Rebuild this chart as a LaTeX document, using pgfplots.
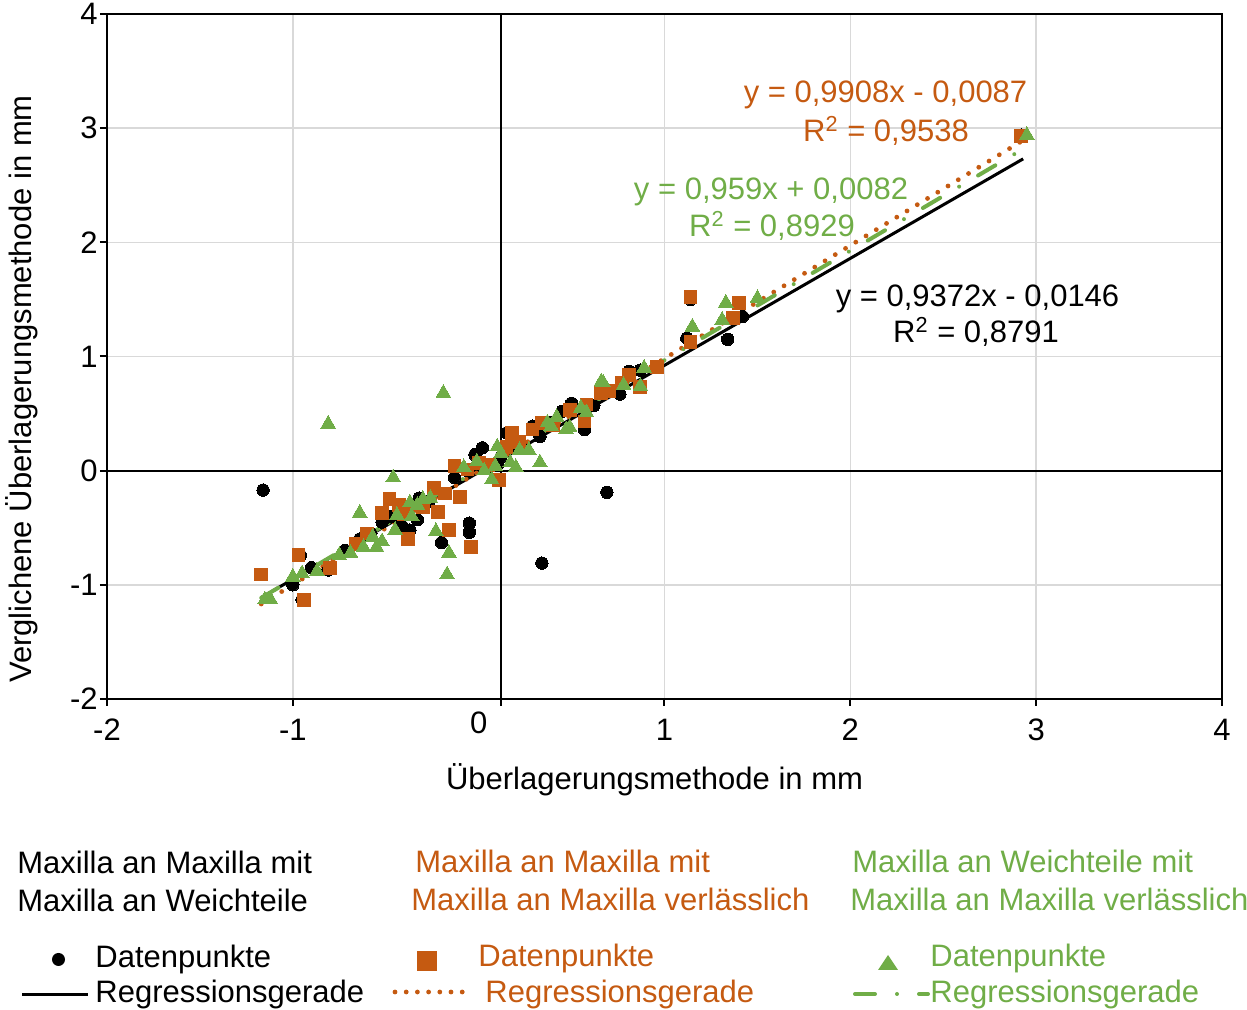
\documentclass[border=0pt]{standalone}
\usepackage{fontspec}
\setmainfont{Liberation Sans}
\usepackage{pgfplots}
\pgfplotsset{compat=1.18}
\definecolor{cblk}{HTML}{000000}
\definecolor{corg}{HTML}{C55A11}
\definecolor{cgrn}{HTML}{70AD47}
\definecolor{cgrid}{HTML}{D9D9D9}
\newcommand\fs{\fontsize{15.5}{18}\selectfont}
\begin{document}
\begin{tikzpicture}[font=\fs]
\path[use as bounding box] (0,0) rectangle (623.5pt,505pt);
\begin{axis}[
  at={(53.5pt,155.5pt)}, anchor=south west,
  width=557.5pt, height=342.5pt, scale only axis,
  xmin=-2, xmax=4, ymin=-2, ymax=4,
  xtick={-2,-1,1,2,3,4},
  extra x ticks={0},
  extra x tick style={grid=none, major tick length=0pt},
  ytick={-2,-1,0,1,2,3,4},
  grid=major, grid style={cgrid, line width=0.8pt},
  axis line style={black, line width=1pt},
  tick style={black, line width=1pt},
  tick align=outside, major tick length=3.5pt,
  xtick pos=bottom, ytick pos=left,
  /pgf/number format/assume math mode=true,
  ticklabel style={font=\fs},
  xticklabel style={yshift=-3pt},
  yticklabel style={inner sep=1pt},
  clip=false,
]
\draw[black, line width=1pt] (axis cs:-2,0) -- (axis cs:4,0);
\draw[black, line width=1pt] ([yshift=-3.5pt]axis cs:0.12,-2) -- (axis cs:0.12,4);

% black circles
\addplot[color=cblk, only marks, mark=*, mark size=3.1pt, mark options={solid, draw=cblk, fill=cblk, line width=0pt}] coordinates {
(-1.16,-0.17) (-1.00,-1.00) (-0.95,-1.13) (-0.96,-0.74) (-0.81,-0.87) (-0.90,-0.85)
(-0.72,-0.70) (-0.64,-0.60) (-0.58,-0.55) (-0.52,-0.45) (-0.48,-0.40) (-0.41,-0.49)
(-0.37,-0.52) (-0.33,-0.43) (-0.32,-0.24) (-0.27,-0.27) (-0.20,-0.63) (-0.05,-0.46)
(-0.05,-0.54) (-0.13,-0.06) (-0.06,0.00) (-0.02,0.14) (0.02,0.20) (0.05,0.03)
(0.10,0.05) (0.15,0.33) (0.22,0.20) (0.29,0.39) (0.34,-0.81) (0.38,0.42)
(0.45,0.52) (0.50,0.59) (0.57,0.36) (0.62,0.57) (0.69,-0.19) (0.76,0.67)
(0.81,0.87) (0.87,0.88) (1.12,1.16) (1.14,1.50) (1.34,1.15) (1.42,1.35) (2.92,2.94)
(-0.44,-0.41) (0.33,0.30) (0.12,0.12)
};
% orange squares
\addplot[color=corg, only marks, mark=square*, mark size=3.2pt, mark options={solid, draw=corg, fill=corg, line width=0pt}] coordinates {
(-1.17,-0.91) (-0.97,-0.74) (-0.94,-1.13) (-0.80,-0.85) (-0.66,-0.64) (-0.60,-0.55)
(-0.52,-0.37) (-0.48,-0.25) (-0.43,-0.30) (-0.38,-0.60) (-0.30,-0.32) (-0.24,-0.15)
(-0.22,-0.36) (-0.16,-0.52) (-0.04,-0.67) (-0.13,0.04) (-0.10,-0.23) (-0.06,0.01)
(0.00,0.07) (0.05,0.05) (0.11,-0.08) (0.15,0.21) (0.18,0.33) (0.22,0.25)
(0.29,0.36) (0.34,0.42) (0.49,0.53) (0.57,0.43) (0.58,0.58) (0.66,0.68)
(0.70,0.70) (0.77,0.77) (0.81,0.84) (0.87,0.73) (0.96,0.91) (1.14,1.13)
(1.14,1.52) (1.37,1.34) (1.40,1.47) (2.92,2.93)
(-0.40,-0.38) (0.40,0.40) (-0.18,-0.20)
};
% green triangles
\addplot[color=cgrn, only marks, mark=triangle*, mark size=4.2pt, mark options={solid, draw=cgrn, fill=cgrn, line width=0pt}] coordinates {
(-1.12,-1.13) (-1.15,-1.13) (-1.00,-0.93) (-0.95,-0.90) (-0.87,-0.88) (-0.81,0.41)
(-0.75,-0.74) (-0.69,-0.72) (-0.64,-0.37) (-0.62,-0.67) (-0.57,-0.58) (-0.55,-0.67)
(-0.52,-0.62) (-0.46,-0.06) (-0.45,-0.52) (-0.44,-0.39) (-0.37,-0.28) (-0.36,-0.40)
(-0.33,-0.30) (-0.30,-0.25) (-0.26,-0.24) (-0.23,-0.53) (-0.19,0.68) (-0.16,-0.72)
(-0.17,-0.91) (-0.08,0.03) (-0.01,0.08) (0.03,0.00) (0.07,-0.08) (0.09,0.04)
(0.10,0.21) (0.12,0.15) (0.17,0.07) (0.20,0.03) (0.22,0.18) (0.27,0.18)
(0.33,0.07) (0.37,0.42) (0.39,0.39) (0.42,0.47) (0.47,0.36) (0.49,0.38)
(0.55,0.55) (0.58,0.51) (0.66,0.78) (0.67,0.77) (0.78,0.75) (0.87,0.74)
(0.89,0.90) (1.15,1.26) (1.31,1.32) (1.33,1.47) (1.50,1.51) (2.95,2.94)
};
% regression lines
\addplot[cblk, line width=1.5pt] coordinates {(-1.17,-1.111) (2.93,2.731)};
\addplot[corg, line width=2.4pt, line cap=round, dash pattern=on 0pt off 6pt] coordinates {(-1.17,-1.168) (2.93,2.894)};
\addplot[cgrn, line width=2pt, line cap=round, dash pattern=on 10pt off 11pt on 0pt off 11pt] coordinates {(-1.17,-1.114) (2.93,2.818)};
\end{axis}

% axis labels
\node[rotate=90, anchor=base] at (16pt,310.5pt) {Verglichene Überlagerungsmethode in mm};
\node[anchor=base] at (327.25pt,110pt) {Überlagerungsmethode in mm};

% equations
\node[anchor=base, text=corg] at (442.75pt,453.5pt) {y = 0,9908x - 0,0087};
\node[anchor=base, text=corg] at (443pt,434pt) {R\textsuperscript{2} = 0,9538};
\node[anchor=base, text=cgrn] at (385.5pt,405pt) {y = 0,959x + 0,0082};
\node[anchor=base, text=cgrn] at (386pt,386.5pt) {R\textsuperscript{2} = 0,8929};
\node[anchor=base, text=cblk] at (488.75pt,351.5pt) {y = 0,9372x - 0,0146};
\node[anchor=base, text=cblk] at (488pt,333.5pt) {R\textsuperscript{2} = 0,8791};

% legend column 1
\node[anchor=base west, inner sep=0pt, text=cblk] at (8.5pt,68pt) {Maxilla an Maxilla mit};
\node[anchor=base west, inner sep=0pt, text=cblk] at (8.5pt,49pt) {Maxilla an Weichteile};
\fill[cblk] (29.25pt,25.25pt) circle (3.25pt);
\node[anchor=base west, inner sep=0pt, text=cblk] at (47.5pt,21pt) {Datenpunkte};
\draw[cblk, line width=1.5pt] (11pt,7.5pt) -- (44pt,7.5pt);
\node[anchor=base west, inner sep=0pt, text=cblk] at (47.5pt,3.5pt) {Regressionsgerade};

% legend column 2
\node[anchor=base west, inner sep=0pt, text=corg] at (207.5pt,68.5pt) {Maxilla an Maxilla mit};
\node[anchor=base west, inner sep=0pt, text=corg] at (205.5pt,49.5pt) {Maxilla an Maxilla verlässlich};
\fill[corg] (208.5pt,19.5pt) rectangle (218.5pt,29.5pt);
\node[anchor=base west, inner sep=0pt, text=corg] at (239pt,21.5pt) {Datenpunkte};
\draw[corg, line width=2.4pt, line cap=round, dash pattern=on 0pt off 5.6pt] (197.5pt,9pt) -- (232pt,9pt);
\node[anchor=base west, inner sep=0pt, text=corg] at (242.5pt,3.5pt) {Regressionsgerade};

% legend column 3
\node[anchor=base west, inner sep=0pt, text=cgrn] at (426pt,68.5pt) {Maxilla an Weichteile mit};
\node[anchor=base west, inner sep=0pt, text=cgrn] at (425pt,49.5pt) {Maxilla an Maxilla verlässlich};
\fill[cgrn] (439pt,20pt) -- (449pt,20pt) -- (444pt,27.5pt) -- cycle;
\node[anchor=base west, inner sep=0pt, text=cgrn] at (465pt,21.5pt) {Datenpunkte};
\draw[cgrn, line width=2pt, line cap=round, dash pattern=on 10pt off 11pt on 0pt off 11pt] (427.5pt,8pt) -- (464pt,8pt);
\node[anchor=base west, inner sep=0pt, text=cgrn] at (465pt,3.5pt) {Regressionsgerade};
\end{tikzpicture}
\end{document}
